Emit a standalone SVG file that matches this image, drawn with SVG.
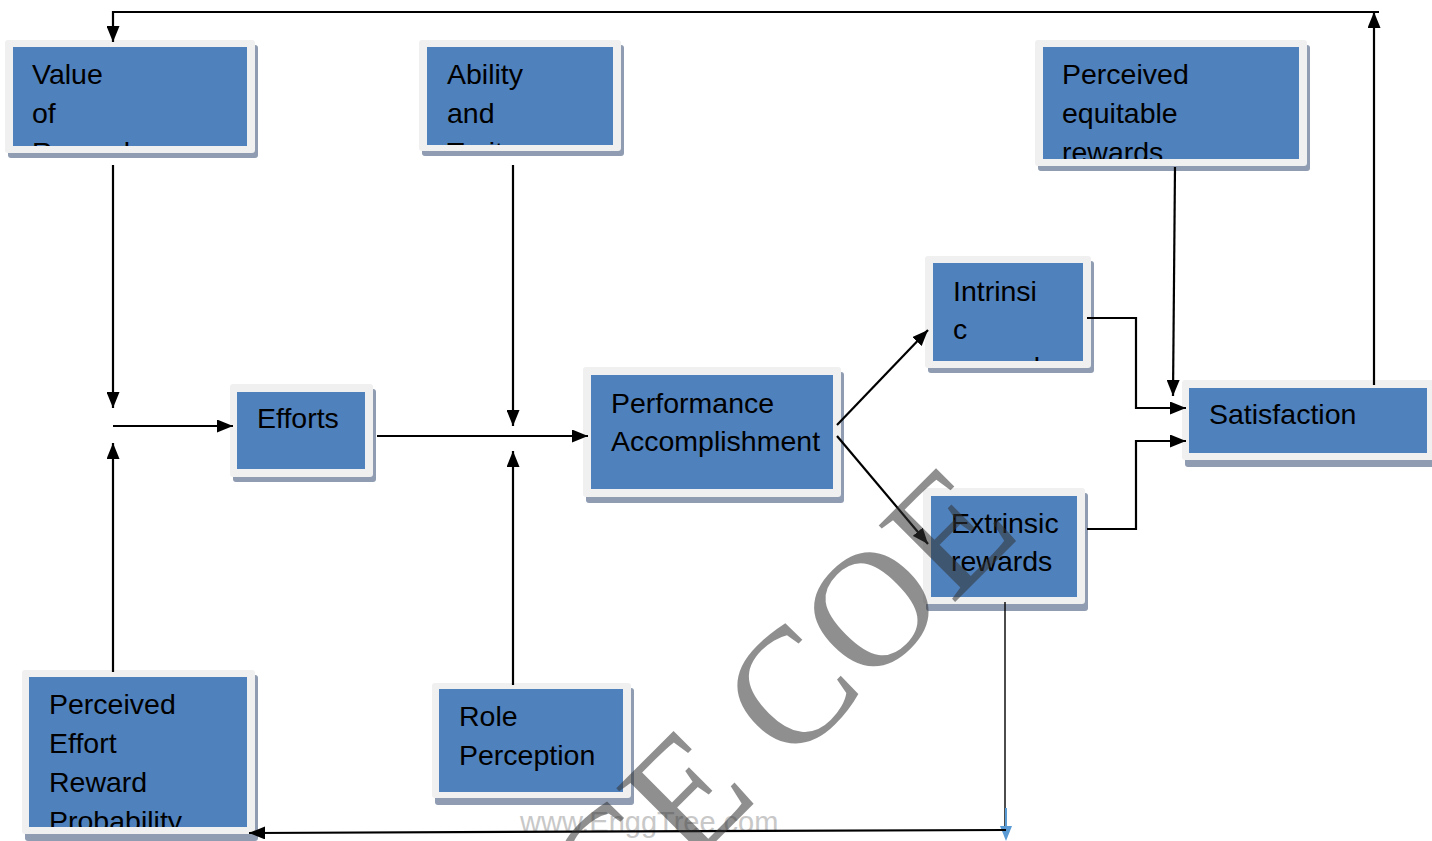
<svg xmlns="http://www.w3.org/2000/svg" width="1432" height="841" viewBox="0 0 1432 841">
  <defs>
    <style>
      .shadow { fill: #8f9cb1; }
      .frame { fill: #f0f0f0; }
      .face { fill: #4f81bd; }
      .label { font-family: "Liberation Sans", Arial, sans-serif; font-size: 28.5px; fill: #000; }
      .wire { fill: none; stroke: #000; stroke-width: 2.2; }
    </style>
    <marker id="arrow" viewBox="0 0 16 13" refX="16" refY="6.5" markerWidth="16" markerHeight="13" markerUnits="userSpaceOnUse" orient="auto">
      <path d="M0,0 L16,6.5 L0,13 Z" fill="#000"/>
    </marker>
    <clipPath id="c-value"><rect x="13" y="47" width="234" height="99"/></clipPath>
    <clipPath id="c-ability"><rect x="427" y="47" width="186" height="98"/></clipPath>
    <clipPath id="c-equitable"><rect x="1043" y="47" width="256" height="112"/></clipPath>
    <clipPath id="c-intrinsic"><rect x="933" y="263" width="150" height="98"/></clipPath>
    <clipPath id="c-effort"><rect x="29" y="677" width="218" height="150"/></clipPath>
  </defs>

  <rect width="1432" height="841" fill="#fff"/>

  <!-- site address along the bottom -->
  <text x="520" y="832" font-family="Liberation Sans, Arial, sans-serif" font-size="29" fill="#c8c8c8">www.EnggTree.com</text>

  <g id="value-of-rewards">
    <rect class="shadow" x="8" y="45" width="250" height="113" rx="3"/>
    <rect class="frame" x="5" y="40" width="250" height="113" rx="3"/>
    <rect class="face" x="13" y="47" width="234" height="99"/>
    <text class="label" clip-path="url(#c-value)"><tspan x="32" y="84">Value</tspan><tspan x="32" y="123">of</tspan><tspan x="32" y="162">Rewards</tspan></text>
  </g>

  <g id="ability-and-traits">
    <rect class="shadow" x="422" y="45" width="202" height="111" rx="3"/>
    <rect class="frame" x="419" y="40" width="202" height="111" rx="3"/>
    <rect class="face" x="427" y="47" width="186" height="98"/>
    <text class="label" clip-path="url(#c-ability)"><tspan x="447" y="84">Ability</tspan><tspan x="447" y="123">and</tspan><tspan x="447" y="162">Traits</tspan></text>
  </g>

  <g id="perceived-equitable-rewards">
    <rect class="shadow" x="1038" y="45" width="272" height="126" rx="3"/>
    <rect class="frame" x="1035" y="40" width="272" height="126" rx="3"/>
    <rect class="face" x="1043" y="47" width="256" height="112"/>
    <text class="label" clip-path="url(#c-equitable)"><tspan x="1062" y="84">Perceived</tspan><tspan x="1062" y="123">equitable</tspan><tspan x="1062" y="162">rewards</tspan></text>
  </g>

  <g id="intrinsic-rewards">
    <rect class="shadow" x="928" y="261" width="166" height="112" rx="3"/>
    <rect class="frame" x="925" y="256" width="166" height="112" rx="3"/>
    <rect class="face" x="933" y="263" width="150" height="98"/>
    <text class="label" clip-path="url(#c-intrinsic)"><tspan x="953" y="301">Intrinsi</tspan><tspan x="953" y="339">c</tspan><tspan x="953" y="377">rewards</tspan></text>
  </g>

  <g id="satisfaction">
    <rect class="shadow" x="1185" y="385" width="256" height="82" rx="3"/>
    <rect class="frame" x="1182" y="380" width="256" height="80" rx="3"/>
    <rect class="face" x="1189" y="388" width="238" height="65"/>
    <text class="label" x="1209" y="424">Satisfaction</text>
  </g>

  <g id="extrinsic-rewards">
    <rect class="shadow" x="926" y="493" width="162" height="118" rx="3"/>
    <rect class="frame" x="923" y="488" width="162" height="116" rx="3"/>
    <rect class="face" x="931" y="496" width="146" height="101"/>
    <text class="label"><tspan x="951" y="533">Extrinsic</tspan><tspan x="951" y="571">rewards</tspan></text>
  </g>

  <g id="efforts">
    <rect class="shadow" x="233" y="389" width="143" height="93" rx="3"/>
    <rect class="frame" x="230" y="384" width="143" height="93" rx="3"/>
    <rect class="face" x="237" y="392" width="128" height="77"/>
    <text class="label" x="257" y="428">Efforts</text>
  </g>

  <g id="performance-accomplishment">
    <rect class="shadow" x="586" y="372" width="258" height="131" rx="3"/>
    <rect class="frame" x="583" y="367" width="258" height="130" rx="3"/>
    <rect class="face" x="591" y="375" width="242" height="114"/>
    <text class="label"><tspan x="611" y="413">Performance</tspan><tspan x="611" y="451">Accomplishment</tspan></text>
  </g>

  <g id="perceived-effort-reward-probability">
    <rect class="shadow" x="25" y="675" width="233" height="166" rx="3"/>
    <rect class="frame" x="22" y="670" width="233" height="164" rx="3"/>
    <rect class="face" x="29" y="677" width="218" height="150"/>
    <text class="label" clip-path="url(#c-effort)"><tspan x="49" y="714">Perceived</tspan><tspan x="49" y="753">Effort</tspan><tspan x="49" y="792">Reward</tspan><tspan x="49" y="831">Probability</tspan></text>
  </g>

  <g id="role-perception">
    <rect class="shadow" x="435" y="688" width="199" height="117" rx="3"/>
    <rect class="frame" x="432" y="683" width="199" height="115" rx="3"/>
    <rect class="face" x="439" y="689" width="184" height="103"/>
    <text class="label"><tspan x="459" y="726">Role</tspan><tspan x="459" y="765">Perception</tspan></text>
  </g>

  <g id="connectors">
    <!-- feedback loop from satisfaction back to value of rewards -->
    <path class="wire" d="M1374,385 V12" marker-end="url(#arrow)"/>
    <path class="wire" d="M1379,12 H113 V42" marker-end="url(#arrow)"/>
    <!-- inputs to effort -->
    <path class="wire" d="M113,165 V408" marker-end="url(#arrow)"/>
    <path class="wire" d="M113,672 V443" marker-end="url(#arrow)"/>
    <path class="wire" d="M113,426 H233" marker-end="url(#arrow)"/>
    <!-- effort to performance, with ability and role perception -->
    <path class="wire" d="M377,436 H588" marker-end="url(#arrow)"/>
    <path class="wire" d="M513,165 V426" marker-end="url(#arrow)"/>
    <path class="wire" d="M513,685 V451" marker-end="url(#arrow)"/>
    <!-- performance to rewards -->
    <path class="wire" d="M837,425 L928,330" marker-end="url(#arrow)"/>
    <path class="wire" d="M837,436 L928,544" marker-end="url(#arrow)"/>
    <!-- rewards to satisfaction -->
    <path class="wire" d="M1087,318 H1136 V408 H1186" marker-end="url(#arrow)"/>
    <path class="wire" d="M1087,529 H1136 V441 H1186" marker-end="url(#arrow)"/>
    <path class="wire" d="M1175,167 L1173,396" marker-end="url(#arrow)"/>
    <!-- extrinsic rewards back to perceived effort-reward probability -->
    <path fill="none" stroke="#000" stroke-width="1.4" d="M1005,602 V831"/>
    <path fill="none" stroke="#5b9bd5" stroke-width="2" d="M1006,808 V828"/>
    <path d="M1000,826 L1012,826 L1006,841 Z" fill="#5b9bd5"/>
    <path class="wire" d="M1006,830 L249,833" marker-end="url(#arrow)"/>
  </g>

  <!-- large semi-transparent lettering across the lower right -->
  <text transform="translate(611.5,945.7) rotate(-45)" font-family="Liberation Serif, 'Times New Roman', serif" font-size="165" fill="#333" fill-opacity="0.55">CE COE</text>
</svg>
